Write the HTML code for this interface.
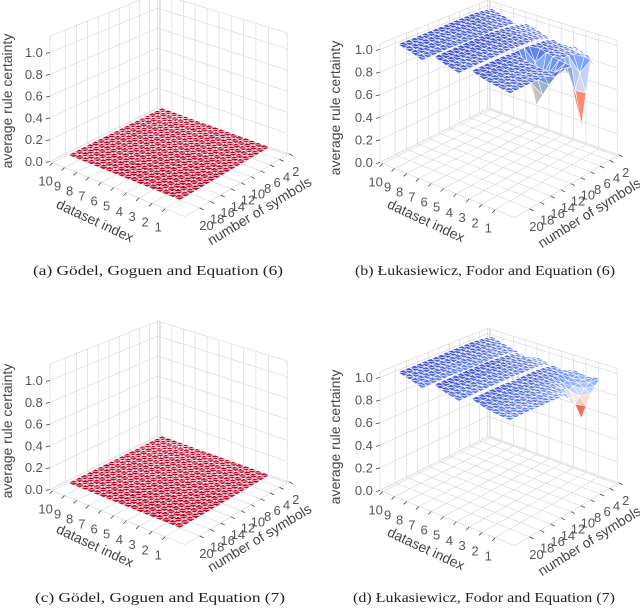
<!DOCTYPE html>
<html><head><meta charset="utf-8"><style>
html,body{margin:0;padding:0;background:#fff;}
svg{display:block;font-family:"Liberation Sans",sans-serif;}
.tl{font-size:13px;fill:#555;}
.at{font-size:14px;fill:#444;}
.cap{font-family:"Liberation Serif",serif;font-size:14px;fill:#222;}
</style></head><body>
<svg id="chart" width="640" height="609" viewBox="0 0 640 609">
<g id="panels"></g>
<text class="at" transform="translate(12,101) rotate(-90)" text-anchor="middle">average rule certainty</text>
<text class="at" transform="translate(93,225) rotate(25)" text-anchor="middle">dataset index</text>
<text class="at" transform="translate(262,215) rotate(-31)" text-anchor="middle">number of symbols</text>
<text class="at" transform="translate(340,108) rotate(-90)" text-anchor="middle">average rule certainty</text>
<text class="at" transform="translate(424,225) rotate(25)" text-anchor="middle">dataset index</text>
<text class="at" transform="translate(592,217) rotate(-32)" text-anchor="middle">number of symbols</text>
<text class="at" transform="translate(12,431) rotate(-90)" text-anchor="middle">average rule certainty</text>
<text class="at" transform="translate(93,550) rotate(25)" text-anchor="middle">dataset index</text>
<text class="at" transform="translate(262,542) rotate(-31)" text-anchor="middle">number of symbols</text>
<text class="at" transform="translate(340,437) rotate(-90)" text-anchor="middle">average rule certainty</text>
<text class="at" transform="translate(424,553) rotate(25)" text-anchor="middle">dataset index</text>
<text class="at" transform="translate(592,545) rotate(-32)" text-anchor="middle">number of symbols</text>
<text class="cap" x="158" y="275" text-anchor="middle" textLength="250" lengthAdjust="spacingAndGlyphs">(a) Gödel, Goguen and Equation (6)</text>
<text class="cap" x="485" y="275" text-anchor="middle" textLength="260" lengthAdjust="spacingAndGlyphs">(b) Łukasiewicz, Fodor and Equation (6)</text>
<text class="cap" x="160" y="602" text-anchor="middle" textLength="250" lengthAdjust="spacingAndGlyphs">(c) Gödel, Goguen and Equation (7)</text>
<text class="cap" x="484" y="602" text-anchor="middle" textLength="262" lengthAdjust="spacingAndGlyphs">(d) Łukasiewicz, Fodor and Equation (7)</text>
</svg>
<script>
// ---- data ----
const datasetIdx = [1,2,3,4,5,6,7,8,9,10];
const symbols = [2,4,6,8,10,12,14,16,18,20];
const zTicks = [0,0.2,0.4,0.6,0.8,1.0];
const zTickLabels = ["0.0","0.2","0.4","0.6","0.8","1.0"];
// rows = dataset index 1..10, columns = number of symbols 2..20
const certaintyA = [
 [0,0,0,0,0,0,0,0,0,0],[0,0,0,0,0,0,0,0,0,0],[0,0,0,0,0,0,0,0,0,0],[0,0,0,0,0,0,0,0,0,0],[0,0,0,0,0,0,0,0,0,0],
 [0,0,0,0,0,0,0,0,0,0],[0,0,0,0,0,0,0,0,0,0],[0,0,0,0,0,0,0,0,0,0],[0,0,0,0,0,0,0,0,0,0],[0,0,0,0,0,0,0,0,0,0]];
const certaintyB = [
 [0.70,0.85,0.30,0.88,0.90,0.90,0.91,0.91,0.91,0.91],
 [0.82,0.88,0.90,0.90,0.72,0.92,0.92,0.93,0.93,0.93],
 [0.86,0.90,0.92,0.93,0.50,0.94,0.95,0.95,0.95,0.95],
 [0.82,0.93,0.96,0.97,0.98,0.98,0.99,0.99,0.99,0.99],
 [0.86,0.90,0.92,0.92,0.93,0.93,0.93,0.93,0.93,0.93],
 [0.90,0.93,0.95,0.96,0.96,0.96,0.96,0.96,0.96,0.96],
 [0.93,0.96,0.98,0.99,1.00,1.00,1.00,1.00,1.00,1.00],
 [0.90,0.91,0.92,0.92,0.92,0.92,0.93,0.93,0.93,0.93],
 [0.94,0.95,0.96,0.96,0.96,0.96,0.97,0.97,0.97,0.97],
 [0.97,0.99,1.00,1.00,1.00,1.00,1.00,1.00,1.00,1.00]];
const certaintyC = [
 [0,0,0,0,0,0,0,0,0,0],[0,0,0,0,0,0,0,0,0,0],[0,0,0,0,0,0,0,0,0,0],[0,0,0,0,0,0,0,0,0,0],[0,0,0,0,0,0,0,0,0,0],
 [0,0,0,0,0,0,0,0,0,0],[0,0,0,0,0,0,0,0,0,0],[0,0,0,0,0,0,0,0,0,0],[0,0,0,0,0,0,0,0,0,0],[0,0,0,0,0,0,0,0,0,0]];
const certaintyD = [
 [0.90,0.80,0.62,0.84,0.90,0.91,0.91,0.92,0.92,0.92],
 [0.88,0.86,0.84,0.90,0.92,0.93,0.93,0.93,0.93,0.93],
 [0.90,0.92,0.93,0.94,0.95,0.95,0.95,0.95,0.95,0.95],
 [0.86,0.95,0.97,0.98,0.98,0.98,0.99,0.99,0.99,0.99],
 [0.88,0.91,0.92,0.92,0.93,0.93,0.93,0.93,0.93,0.93],
 [0.91,0.94,0.95,0.96,0.96,0.96,0.96,0.96,0.96,0.96],
 [0.90,0.96,0.98,0.99,1.00,1.00,1.00,1.00,1.00,1.00],
 [0.91,0.91,0.92,0.92,0.92,0.92,0.93,0.93,0.93,0.93],
 [0.94,0.95,0.96,0.96,0.96,0.96,0.97,0.97,0.97,0.97],
 [0.97,0.99,1.00,1.00,1.00,1.00,1.00,1.00,1.00,1.00]];

// ---- projection ----
const NS = "http://www.w3.org/2000/svg";
function solve(A,b){const n=b.length;for(let i=0;i<n;i++){let p=i;for(let r=i+1;r<n;r++)if(Math.abs(A[r][i])>Math.abs(A[p][i]))p=r;[A[i],A[p]]=[A[p],A[i]];[b[i],b[p]]=[b[p],b[i]];for(let r=i+1;r<n;r++){const f=A[r][i]/A[i][i];for(let c=i;c<n;c++)A[r][c]-=f*A[i][c];b[r]-=f*b[i];}}const x=new Array(n);for(let i=n-1;i>=0;i--){let s=b[i];for(let c=i+1;c<n;c++)s-=A[i][c]*x[c];x[i]=s/A[i][i];}return x;}
function homog(src,dst){const A=[],b=[];for(let i=0;i<4;i++){const[x,y]=src[i],[X,Y]=dst[i];A.push([x,y,1,0,0,0,-X*x,-X*y]);b.push(X);A.push([0,0,0,x,y,1,-Y*x,-Y*y]);b.push(Y);}const h=solve(A,b);h.push(1);return h;}
function applyH(H,d,s){const w=H[6]*d+H[7]*s+1;return[(H[0]*d+H[1]*s+H[2])/w,(H[3]*d+H[4]*s+H[5])/w,w];}
function invApply(H,x,y){const a=H[0],b=H[1],c=H[2],d=H[3],e=H[4],f=H[5],g=H[6],h=H[7],k=1;
 const m=[[e*k-f*h,c*h-b*k,b*f-c*e],[f*g-d*k,a*k-c*g,c*d-a*f],[d*h-e*g,b*g-a*h,a*e-b*d]];
 const X=m[0][0]*x+m[0][1]*y+m[0][2],Y=m[1][0]*x+m[1][1]*y+m[1][2],W=m[2][0]*x+m[2][1]*y+m[2][2];return[X/W,Y/W];}

const SURF_SRC=[[10,20],[1,20],[1,2],[10,2]];
const SURF_DST=[[68,155],[180,200],[270,147],[162,108]];
const BOX_L=[51,161],BOX_F=[183,217],BOX_R=[288,155];
const H=homog(SURF_SRC,SURF_DST);
const pL=invApply(H,BOX_L[0],BOX_L[1]),pF=invApply(H,BOX_F[0],BOX_F[1]),pR=invApply(H,BOX_R[0],BOX_R[1]);
const d0=(pF[0]+pR[0])/2,d1=pL[0],s1=(pF[1]+pL[1])/2,s0=pR[1];
const wL=applyH(H,d1,s1)[2];

const stops=[[0,[59,76,192]],[0.25,[123,159,249]],[0.5,[221,221,221]],[0.75,[244,154,123]],[1,[180,4,38]]];
function coolwarm(t){t=Math.max(0,Math.min(1,t));for(let i=1;i<stops.length;i++){if(t<=stops[i][0]){const a=stops[i-1],b=stops[i];const u=(t-a[0])/(b[0]-a[0]);return a[1].map((v,k)=>v+(b[1][k]-v)*u);}}return stops[4][1];}

function mk(tag,attrs,parent){const el=document.createElementNS(NS,tag);for(const k in attrs)el.setAttribute(k,attrs[k]);parent.appendChild(el);return el;}

function panel(name,ox,oy,kz,zmax,Z){
 const g=mk('g',{},document.getElementById('panels'));
 
 
 const P=(d,s,z)=>{const[x,y,w]=applyH(H,d,s);const sc=kz*wL/w;return[ox+x,oy+y-z*sc];};
 const pts=a=>a.map(p=>p[0].toFixed(2)+','+p[1].toFixed(2)).join(' ');
 const leftPane=mk('polygon',{points:pts([P(d1,s0,0),P(d1,s1,0),P(d1,s1,zmax),P(d1,s0,zmax)]),fill:'#fff',stroke:'#dcdcdc','stroke-width':0.8},g);
 
 
 const rightPane=mk('polygon',{points:pts([P(d0,s0,0),P(d1,s0,0),P(d1,s0,zmax),P(d0,s0,zmax)]),fill:'#fff',stroke:'#dcdcdc','stroke-width':0.8},g);
 
 
 const floor=mk('polygon',{points:pts([P(d0,s0,0),P(d1,s0,0),P(d1,s1,0),P(d0,s1,0)]),fill:'#fff',stroke:'#dcdcdc','stroke-width':0.8},g);
 
 
 const gl=(a,b)=>{const l=mk('line',{x1:a[0],y1:a[1],x2:b[0],y2:b[1],stroke:'#dedede','stroke-width':0.8},g);return l;};
 symbols.forEach(s=>{const l1=gl(P(d1,s,0),P(d1,s,zmax));const l2=gl(P(d0,s,0),P(d1,s,0));});
 datasetIdx.forEach(d=>{const l1=gl(P(d,s0,0),P(d,s0,zmax));const l2=gl(P(d,s0,0),P(d,s1,0));});
 zTicks.forEach(z=>{const l1=gl(P(d1,s0,z),P(d1,s1,z));const l2=gl(P(d0,s0,z),P(d1,s0,z));});
 let vmin=Infinity,vmax=-Infinity;Z.forEach(r=>r.forEach(v=>{vmin=Math.min(vmin,v);vmax=Math.max(vmax,v);}));
 const norm=v=>vmax>vmin?Math.pow(Math.max(0,(v-vmin)/(vmax-vmin)),0.7):0;
 const n=2,quads=[];
 for(let i=0;i<datasetIdx.length-1;i++)for(let j=0;j<symbols.length-1;j++)for(let a=0;a<n;a++)for(let b=0;b<n;b++){
  const u0=a/n,u1=(a+1)/n,v0=b/n,v1=(b+1)/n;
  const zz=(u,v)=>Z[i][j]*(1-u)*(1-v)+Z[i+1][j]*u*(1-v)+Z[i][j+1]*(1-u)*v+Z[i+1][j+1]*u*v;
  const dd=u=>datasetIdx[i]+(datasetIdx[i+1]-datasetIdx[i])*u,ss=v=>symbols[j]+(symbols[j+1]-symbols[j])*v;
  const c=[[u0,v0],[u1,v0],[u1,v1],[u0,v1]].map(([u,v])=>[dd(u),ss(v),zz(u,v)]);
  const key=applyH(H,dd((u0+u1)/2),ss((v0+v1)/2))[1];
  quads.push({c,key});
 }
 quads.sort((p,q)=>p.key-q.key);
 const sg=mk('g',{},g);
 
 
 quads.forEach(q=>{
  [[0,1,2],[0,2,3]].forEach((tri,ti)=>{
   const v=tri.map(k=>q.c[k]);
   const za=Math.min(v[0][2],v[1][2],v[2][2])*0.6+(v[0][2]+v[1][2]+v[2][2])/3*0.4;
   const ax=[v[1][0]-v[0][0],(v[1][1]-v[0][1])/2,(v[1][2]-v[0][2])*8],bx=[v[2][0]-v[0][0],(v[2][1]-v[0][1])/2,(v[2][2]-v[0][2])*8];
   let nx=ax[1]*bx[2]-ax[2]*bx[1],ny=ax[2]*bx[0]-ax[0]*bx[2],nz=ax[0]*bx[1]-ax[1]*bx[0];
   const nl=Math.hypot(nx,ny,nz)||1;if(nz<0){nx=-nx;ny=-ny;nz=-nz;}
   const dot=(-nx*0.5+ny*0.5+nz*0.7)/nl;
   const sh=Math.max(0.9,Math.min(1.1,1+0.25*(dot-0.7)+(ti?0.04:0)));
   const col=coolwarm(1-norm(za)).map(x=>Math.max(0,Math.min(255,Math.round(x*sh))));
   const t=mk('polygon',{points:pts(v.map(p=>P(p[0],p[1],p[2]))),fill:'rgb('+col.join(',')+')',stroke:'#fff','stroke-width':0.55,'stroke-linejoin':'round'},sg);
   
   
  });
 });
 zTicks.forEach((z,k)=>{const p=P(d1,s1,z);
  const tk=mk('line',{x1:p[0],y1:p[1],x2:p[0]-4,y2:p[1]+1,stroke:'#444','stroke-width':0.8},g);
  
  
  const tx=mk('text',{x:p[0]-7,y:p[1]+4.5,'text-anchor':'end',class:'tl'},g);tx.textContent=zTickLabels[k];
  
  });
 datasetIdx.forEach(d=>{const p=P(d,s1,0);
  const tk=mk('line',{x1:p[0],y1:p[1],x2:p[0]-3,y2:p[1]+3,stroke:'#444','stroke-width':0.8},g);
  
  
  const tx=mk('text',{x:p[0]-7,y:p[1]+23,'text-anchor':'middle',class:'tl'},g);tx.textContent=String(d);
  
  });
 symbols.forEach(s=>{const p=P(d0,s,0);
  const tk=mk('line',{x1:p[0],y1:p[1],x2:p[0]+4,y2:p[1]+2,stroke:'#444','stroke-width':0.8},g);
  
  
  const tx=mk('text',{x:p[0]+7,y:p[1]+22,'text-anchor':'middle',class:'tl'},g);tx.textContent=String(s);
  
  });
}
panel('a',0,0,109,1.15,certaintyA);
panel('b',330,1,113,1.05,certaintyB);
panel('c',0,328,109,1.15,certaintyC);
panel('d',330,329,113,1.05,certaintyD);
</script>
</body></html>
